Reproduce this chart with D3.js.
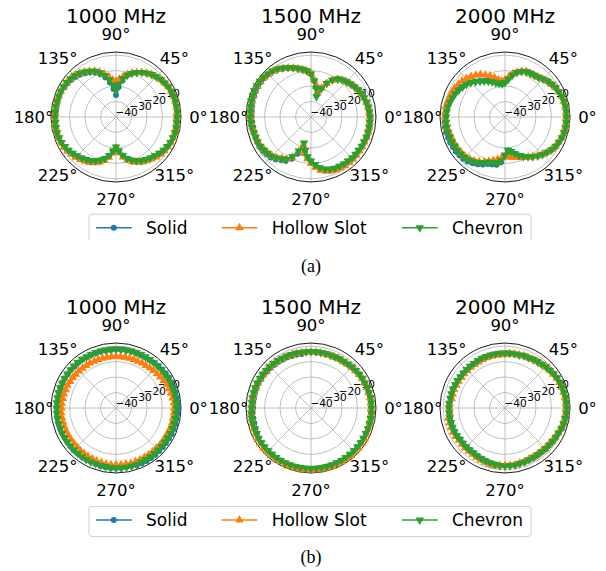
<!DOCTYPE html>
<html>
<head>
<meta charset="utf-8">
<script src="https://cdn.jsdelivr.net/npm/d3@7"></script>
<style>
  body { margin: 0; background: #fff; }
  svg text { font-family: "DejaVu Sans", sans-serif; fill: #000; }
  svg text.caption { font-family: "Liberation Serif", serif; }
</style>
</head>
<body>
<svg id="fig" width="606" height="571"></svg>
<script>
// Radiation patterns (dB) sampled every 5 degrees, 0..355
const angles = d3.range(0, 360, 5);
const rDomain = [-50, -8];
const rTicks = [-40, -30, -20, -10];
const thetaTicks = [0, 45, 90, 135, 180, 225, 270, 315];
const freqLabels = ["1000 MHz", "1500 MHz", "2000 MHz"];
const seriesNames = ["Solid", "Hollow Slot", "Chevron"];
const seriesColors = ["#1f77b4", "#ff7f0e", "#2ca02c"];
const captions = ["(a)", "(b)"];

// ---- (a) ----
const aSolid1000 = [-10.7,-10.4,-10.3,-10.4,-10.4,-10.7,-11.0,-11.6,-12.3,-13.2,-14.2,-15.5,-16.8,-18.4,-20.1,-22.1,
  -26.1,-30.6,-35.8,-31.9,-27.4,-23.5,-20.6,-18.3,-16.7,-15.4,-14.1,-13.2,-12.5,-11.9,-11.6,
  -10.9,-10.9,-10.9,-10.9,-10.9,-10.6,-10.5,-10.4,-10.3,
  -10.3,-10.6,-11.2,-12.1,-13.2,-14.2,-15.2,-16.2,-17.2,-18.6,-20.2,-22.1,-24.6,-27.8,
  -30.3,-27.9,-24.7,-22.1,-20.2,-18.6,-17.3,-16.3,-15.3,-14.4,-13.4,-12.4,-11.8,-11.1,-10.8,-10.5,-10.5,-10.6];
const aHollow1000 = [-10.7,-10.4,-10.4,-10.4,-10.5,-10.7,-11.0,-11.7,-12.3,-13.3,-14.2,-15.5,-16.8,-18.2,-19.8,
  -21.6,-23.8,-25.5,-26.7,-26.1,-23.5,-21.3,-19.0,-17.1,-15.8,-14.5,-13.2,-12.2,-11.6,-11.2,-10.9,
  -10.6,-10.6,-10.5,-10.5,-10.5,-10.5,-10.4,-10.4,-10.4,
  -10.6,-10.6,-10.9,-11.6,-12.5,-13.2,-14.1,-15.1,-16.1,-17.4,-19.0,-20.9,-23.5,-26.7,-30.0,-27.1,-23.8,-21.3,-19.3,-17.7,
  -16.4,-15.4,-14.5,-13.5,-12.5,-11.9,-11.2,-10.9,-10.6,-10.6,-10.5,-10.6];
const aChevron1000 = [-10.6,-10.3,-10.3,-10.3,-10.3,-10.6,-10.9,-11.6,-12.2,-13.2,
  -14.1,-15.4,-16.7,-18.3,-20.0,-21.9,-24.8,-28.7,-33.2,-29.3,
  -25.5,-22.2,-19.6,-17.4,-15.8,-14.5,-13.2,-12.2,-11.6,-11.2,
  -10.9,-10.6,-10.7,-10.6,-10.5,-10.6,-10.6,-10.7,-10.6,-10.6,
  -10.9,-11.2,-11.9,-12.5,-13.5,-14.5,-15.4,-16.4,-17.4,-18.7,
  -20.3,-22.2,-24.8,-28.0,-30.6,-28.0,-24.8,-22.2,-20.3,-18.7,
  -17.4,-16.4,-15.4,-14.5,-13.5,-12.5,-11.9,-11.2,-10.9,-10.6,-10.5,-10.6];

const aSolid1500 = [-11.8,-12.1,-12.4,-12.8,-13.4,-14.0,-14.7,-15.7,-16.6,-17.6,-18.6,-19.9,-22.3,-25.8,-29.8,
  -34.5,-30.0,-26.1,-22.2,
  -20.3,-19.0,-17.7,-16.4,-15.1,-13.8,-12.5,-11.5,-10.9,
  -10.9,-10.6,-10.6,-10.6,-10.9,-10.9,-11.3,-11.6,-11.6,-11.9,-12.1,-12.2,-12.1,-11.8,
  -11.5,-11.9,-12.5,-13.1,-14.4,-16.1,-17.3,-20.3,
  -24.8,-30.0,-27.4,
  -24.0,-21.4,-18.8,-16.5,-14.9,-13.9,-13.3,-13.0,-12.7,-12.7,-12.3,-12.3,-12.3,-12.0,-12.0,-11.7,-11.7,-11.7,-11.7];
const aHollow1500 = [-12.0,-12.3,-12.6,-13.0,-13.6,-14.2,-14.9,-15.8,-16.8,-17.8,-18.8,-20.2,-22.6,-25.9,-30.0,
  -33.9,-30.0,-26.1,-21.9,
  -20.3,-19.0,-17.7,-16.4,-15.1,-13.8,-12.5,-11.6,-11.0,-10.3,-10.0,-10.0,-10.0,-10.3,-10.3,-10.6,-10.9,-10.9,
  -11.2,-11.5,-11.8,-12.1,-12.2,-12.5,-13.1,-13.7,-14.4,-15.6,-17.3,-18.6,
  -21.3,-26.1,-31.3,-26.1,-22.9,-20.0,-17.4,-15.1,-13.8,-12.9,-12.2,-11.9,-11.6,-11.6,-11.6,-11.6,-11.9,
  -11.9,-11.9,-11.9,-11.9,-11.9,-11.9];
const aChevron1500 = [-11.9,-12.2,-12.5,-12.9,-13.5,-14.1,-14.8,-15.8,-16.7,-17.7,
  -18.7,-20.0,-22.5,-26.1,-30.6,-36.4,-31.3,-26.7,-22.2,-20.0,
  -18.7,-17.4,-16.1,-14.8,-13.5,-12.2,-11.2,-10.6,-9.9,-9.6,
  -9.6,-9.6,-9.9,-9.9,-10.3,-10.6,-10.6,-10.9,-11.2,-11.6,
  -11.9,-11.9,-12.2,-12.9,-13.5,-14.1,-15.4,-17.1,-18.3,-21.6,
  -26.7,-32.6,-28.0,-24.2,-21.6,-19.0,-16.7,-15.1,-14.1,-13.5,
  -13.2,-12.9,-12.9,-12.5,-12.5,-12.5,-12.2,-12.2,-11.9,-11.9,-11.9,-11.9];

const aSolid2000 = [-10.1,-10.1,-10.1,-10.4,-10.7,-11.4,-12.0,-13.0,-13.9,-15.2,-16.2,-16.9,-17.2,-17.5,-18.5,-20.1,
  -22.2,-25.2,-27.4,-28.4,-27.7,-26.8,-25.5,-24.2,-22.9,-21.6,-20.0,-18.4,-17.1,-16.1,-15.1,-14.2,-13.5,-12.9,-12.2,-11.9,-11.6,
  -10.9,-10.6,-10.6,-10.9,-10.9,-11.2,-11.2,-11.6,-11.9,-12.5,-13.5,-14.8,-16.1,-17.7,-18.3,-18.7,
  -20.6,-25.0,-28.2,
  -27.4,-25.5,-23.5,-21.9,-20.3,-18.7,-17.1,-15.8,-14.5,-13.2,-12.2,-11.6,-10.9,-10.6,-10.3,-10.3];
const aHollow2000 = [-10.4,-10.4,-10.4,-10.7,-11.0,-11.7,-12.3,-13.3,-14.2,-15.5,-16.5,-17.1,-17.4,-17.6,-18.5,-20.0,
  -21.6,-24.2,-26.1,-26.7,-25.5,-23.5,-21.6,-20.0,-18.3,-17.1,-15.8,-14.8,-13.8,-13.2,-12.5,-12.2,-11.9,-11.6,-11.2,-11.2,
  -11.2,-11.6,-11.9,-12.5,-12.9,-12.9,-13.2,-13.2,-13.5,-13.8,-14.5,-15.4,-16.7,-18.0,-19.6,-20.9,-22.2,-23.5,-24.2,-24.2,
  -23.5,-22.9,-22.2,-21.3,-20.0,
  -18.8,-17.2,-15.9,-14.6,-13.3,-12.3,-11.7,-11.0,-10.7,-10.4,-10.4];
const aChevron2000 = [-10.3,-10.3,-10.3,-10.6,-10.9,-11.6,-12.2,-13.2,-14.1,-15.4,
  -16.4,-17.1,-17.4,-17.7,-18.7,-20.3,-22.5,-25.5,-27.7,-28.7,
  -28.0,-27.1,-25.8,-24.5,-23.2,-21.9,-20.3,-18.7,-17.4,-16.4,
  -15.4,-14.5,-13.8,-13.2,-12.5,-12.2,-11.9,-11.9,-11.9,-11.9,
  -12.2,-12.2,-12.5,-12.5,-12.9,-13.2,-13.8,-14.8,-16.1,-17.4,
  -19.0,-19.6,-20.0,-21.6,-25.5,-28.4,-27.4,-25.5,-23.5,-21.9,
  -20.3,-18.7,-17.1,-15.8,-14.5,-13.2,-12.2,-11.6,-10.9,-10.6,-10.3,-10.3];

// ---- (b) ----
const bSolid1000 = [-9.9,-9.9,-9.9,-10.3,-10.3,-10.6,-10.6,-10.9,-11.2,-11.6,-11.9,
  -12.2,-12.2,-12.3,-12.2,-12.2,-12.1,-12.2,-12.2,-12.3,-12.2,-12.2,-12.2,-12.1,-12.2,
  -11.9,-11.9,-12.0,-11.9,-11.9,-11.8,-11.9,-11.9,-12.0,-11.9,-11.9,-11.9,
  -11.6,-11.6,-11.5,-11.6,-11.6,-11.7,-11.6,-11.6,-11.5,-11.6,-11.6,-11.6,-11.7,-11.6,
  -11.2,-11.2,-11.1,-11.2,-11.2,-11.3,-11.2,
  -10.6,-10.6,-10.5,-10.6,-10.6,-10.7,-10.6,-10.6,-10.5,
  -10.3,-10.3,-10.2,-10.3,-10.1];
const bHollow1000 = [-12.5,-12.5,-12.9,-13.2,-13.5,-13.8,-14.5,-15.1,-15.4,-15.8,-16.1,-16.4,-16.4,
  -16.7,-16.7,-16.8,-16.7,-16.7,-16.6,-16.7,-16.7,-16.8,-16.7,-16.7,
  -16.4,-16.4,-16.4,-16.1,-16.1,-15.8,-15.8,-15.4,-15.4,-15.1,-15.1,-14.8,-14.8,
  -14.5,-14.5,-14.6,-14.5,-14.5,-14.4,-14.5,-14.5,-14.5,
  -14.1,-14.1,-13.8,-13.8,-13.5,-13.5,
  -13.2,-13.2,-13.3,-13.2,-13.2,-13.1,-13.2,-13.2,-13.3,-13.2,-13.2,-13.2,
  -12.9,-12.9,-12.9,-12.9,
  -12.5,-12.5,-12.6,-12.5];
const bChevron1000 = [-10.9,-10.9,-10.8,-10.9,-11.2,-11.1,-11.2,-11.6,-11.5,-11.6,
  -11.9,-11.8,-11.9,-11.9,-12.0,-11.9,-11.9,-11.8,-11.9,-11.9,
  -12.0,-11.9,-11.8,-11.9,-11.9,-11.6,-11.6,-11.5,-11.6,-11.6,
  -11.7,-11.6,-11.6,-11.5,-11.6,-11.6,-11.6,-11.6,-11.7,-11.6,
  -11.6,-11.5,-11.6,-11.6,-11.6,-11.7,-11.6,-11.6,-11.5,-11.6,
  -11.6,-11.6,-11.6,-11.2,-11.2,-11.1,-11.2,-11.2,-11.2,-11.6,
  -11.6,-11.5,-11.6,-11.6,-11.6,-11.6,-11.6,-11.2,-11.2,-11.1,-11.2,-11.2];

const bSolid1500 = [-11.2,-11.2,-11.2,-11.5,-11.5,-11.9,-11.9,-12.2,-12.5,-12.8,-13.2,-13.5,-13.5,
  -13.8,-13.8,-13.9,-13.8,-13.8,-13.8,-13.9,
  -14.5,-14.2,-14.2,-13.9,-13.9,-13.5,-13.5,-13.2,-13.2,-12.9,-12.9,-12.6,-12.6,-12.6,-12.6,-12.6,-12.6,-12.2,-12.2,-12.0,-11.8,
  -11.4,-10.8,-10.8,-10.9,-10.8,-10.8,-10.7,-10.8,-10.8,-10.9,-10.8,-10.8,-10.8,-10.7,-10.8,
  -10.8,-10.9,-10.8,-10.8,-10.8,-10.7,-10.8,-10.8,-10.9,-10.8,-10.8,-10.8,-10.7,-10.8,-10.8,-10.8];
const bHollow1500 = [-11.2,-11.2,-11.2,-11.5,-11.5,-11.9,-11.9,-12.2,-12.5,-12.8,-13.2,-13.5,-13.5,
  -13.8,-13.8,-13.8,-13.9,-13.8,-13.8,-13.8,-13.8,
  -13.5,-13.5,-13.2,-13.2,-12.8,-12.8,-12.5,-12.5,-12.2,-12.2,
  -11.9,-11.9,-11.9,-11.9,-11.9,-11.9,
  -11.2,-11.0,-10.8,
  -10.6,-10.3,
  -9.9,-9.9,-9.8,-9.9,-9.9,-9.9,-10.0,-9.9,-9.9,-9.8,-9.9,-9.9,-9.9,-9.9,-10.0,-9.9,-9.9,-9.8,-9.9,-9.9,-9.9,-9.9,-10.0,-9.9,-9.9,
  -10.3,-10.6,-10.6,-10.9,-10.9];
const bChevron1500 = [-10.9,-10.9,-10.9,-11.2,-11.2,-11.6,-11.6,-11.9,-12.2,-12.5,-12.9,-13.2,-13.2,
  -13.5,-13.5,-13.5,-13.6,-13.5,-13.5,-13.5,-13.5,
  -13.2,-13.2,-12.9,-12.9,-12.5,-12.5,-12.2,-12.2,-11.9,-11.9,
  -11.6,-11.6,-11.6,-11.6,-11.6,-11.6,
  -11.2,-11.2,-11.2,-11.2,-11.2,
  -10.9,-10.9,-10.9,-11.0,-10.9,-10.9,-10.9,-10.8,-10.9,-10.9,-10.9,-11.0,-10.9,-10.9,-10.9,
  -10.8,-10.9,-10.9,-10.9,-11.0,-10.9,-10.9,-10.9,-10.8,-10.9,-10.9,-10.9,-10.9,-10.9,-10.9];

const bSolid2000 = [-10.0,-10.0,-10.0,-10.3,-10.3,-10.6,-10.9,-11.3,-11.9,-12.2,-12.9,-13.2,-13.5,
  -14.3,-14.3,-14.7,
  -14.7,-14.7,-14.7,-14.7,-14.7,-14.7,-14.7,-14.7,
  -15.0,-15.0,-15.0,-15.0,-15.0,-15.0,
  -14.7,-14.7,-14.3,-14.3,-14.3,-14.0,
  -14.0,-14.0,-14.0,-14.0,-14.0,-14.0,
  -14.3,-14.7,-14.7,-14.7,-14.7,-14.7,
  -14.3,-14.0,-13.7,-13.4,-13.1,
  -12.7,-12.7,-12.7,-12.7,-13.1,-13.1,
  -12.9,-12.9,-12.9,-12.9,-12.6,-12.6,-12.2,-11.9,-11.6,-10.9,-10.6,-10.3,-10.0];
const bHollow2000 = [-10.6,-10.6,-10.6,-10.9,-10.9,-11.2,-11.5,-11.9,
  -12.2,-12.5,-13.2,-13.5,-13.8,-14.1,-14.1,-14.5,-14.5,-14.6,
  -15.4,-15.4,-15.4,-15.4,-15.4,-15.4,-15.7,-15.7,-15.7,-15.7,-15.7,-15.7,-15.4,-15.4,-15.0,-15.0,-15.0,
  -14.1,-14.1,-14.1,
  -12.9,-12.9,-12.9,-12.9,-13.2,-13.6,-13.6,-13.6,-13.6,-13.6,-13.2,-12.9,-12.6,-12.3,-12.0,
  -12.8,-12.8,-12.8,-12.8,-13.2,-13.2,-13.5,-13.5,-13.5,-13.5,-13.2,-13.2,-12.8,-12.5,-12.2,-11.5,-11.2,-10.9,-10.6];
const bChevron2000 = [-10.3,-10.3,-10.3,-10.6,-10.6,-10.9,-11.2,-11.6,-12.2,-12.5,-13.2,-13.5,-13.8,-14.1,-14.1,-14.5,
  -14.5,-14.5,-14.5,-14.5,-14.5,-14.5,-14.5,-14.5,
  -14.8,-14.8,-14.8,-14.8,-14.8,-14.8,
  -14.5,-14.5,-14.1,-14.1,-14.1,-13.8,
  -13.8,-13.8,-13.8,-13.8,-13.8,-13.8,
  -14.1,-14.5,-14.5,-14.5,-14.5,-14.5,
  -14.1,-13.8,-13.5,-13.2,-12.9,
  -12.5,-12.5,-12.5,-12.5,-12.9,-12.9,
  -13.2,-13.2,-13.2,-13.2,-12.9,-12.9,-12.5,-12.2,-11.9,-11.2,-10.9,-10.6,-10.3];

const panels = [
  { row: 0, col: 0, series: [aSolid1000, aHollow1000, aChevron1000] },
  { row: 0, col: 1, series: [aSolid1500, aHollow1500, aChevron1500] },
  { row: 0, col: 2, series: [aSolid2000, aHollow2000, aChevron2000] },
  { row: 1, col: 0, series: [bSolid1000, bHollow1000, bChevron1000] },
  { row: 1, col: 1, series: [bSolid1500, bHollow1500, bChevron1500] },
  { row: 1, col: 2, series: [bSolid2000, bHollow2000, bChevron2000] }
];

// ---- layout ----
const R = 65;
const colX = [116, 311, 505];
const rowY = [117, 408];
const legendY = [227.7, 520];
const captionY = [272, 563];

const svg = d3.select("#fig");
const defs = svg.append("defs");
defs.append("clipPath").attr("id", "topClip")
  .append("rect").attr("x", 0).attr("y", 0).attr("width", 606).attr("height", 240.5);

const rScale = d3.scaleLinear().domain(rDomain).range([0, R]);
const rad = deg => deg * Math.PI / 180;
const px = (deg, v) => rScale(v) * Math.cos(rad(deg));
const py = (deg, v) => -rScale(v) * Math.sin(rad(deg));

const symbolFor = [
  d3.symbol().type(d3.symbolCircle).size(28),
  d3.symbol().type(d3.symbolTriangle).size(32),
  d3.symbol().type(d3.symbolTriangle).size(32)
];
const symbolRotate = [0, 0, 180];

panels.forEach(p => {
  const g = svg.append("g")
    .attr("transform", `translate(${colX[p.col]},${rowY[p.row]})`);

  // radial grid circles
  g.selectAll("circle.rgrid").data(rTicks).join("circle")
    .attr("class", "rgrid")
    .attr("r", d => rScale(d))
    .attr("fill", "none").attr("stroke", "#b0b0b0").attr("stroke-width", 0.8);

  // angular grid spokes
  g.selectAll("line.tgrid").data(thetaTicks).join("line")
    .attr("class", "tgrid")
    .attr("x1", 0).attr("y1", 0)
    .attr("x2", d => R * Math.cos(rad(d)))
    .attr("y2", d => -R * Math.sin(rad(d)))
    .attr("stroke", "#b0b0b0").attr("stroke-width", 0.8);

  // outer spine
  g.append("circle").attr("r", R)
    .attr("fill", "none").attr("stroke", "#000").attr("stroke-width", 0.9);

  // angle labels
  g.selectAll("text.tlab").data(thetaTicks).join("text")
    .attr("class", "tlab")
    .attr("x", d => 82.5 * Math.cos(rad(d)))
    .attr("y", d => -82.5 * Math.sin(rad(d)))
    .attr("text-anchor", "middle")
    .attr("dominant-baseline", "central")
    .attr("font-size", "16.5px")
    .text(d => d + "°");

  // radial labels (drawn beneath the data)
  g.selectAll("text.rlab").data(rTicks).join("text")
    .attr("class", "rlab")
    .attr("x", d => (rScale(d) - 4) * Math.cos(rad(24)))
    .attr("y", d => -(rScale(d) - 4) * Math.sin(rad(24)))
    .attr("text-anchor", "middle")
    .attr("dominant-baseline", "central")
    .attr("font-size", "10.5px")
    .text(d => d3.format("d")(d).replace("-", "\u2212"));

  // title
  g.append("text")
    .attr("x", 0).attr("y", -94)
    .attr("text-anchor", "middle")
    .attr("font-size", "20px")
    .text(freqLabels[p.col]);

  // data series
  p.series.forEach((vals, si) => {
    const pts = angles.map((a, i) => [px(a, vals[i]), py(a, vals[i])]);
    g.append("path")
      .attr("d", d3.line().curve(d3.curveLinearClosed)(pts))
      .attr("fill", "none")
      .attr("stroke", seriesColors[si])
      .attr("stroke-width", 1.5);
    g.selectAll(null).data(pts).join("path")
      .attr("d", symbolFor[si])
      .attr("transform", d => `translate(${d[0]},${d[1]}) rotate(${symbolRotate[si]})`)
      .attr("fill", seriesColors[si]);
  });
});

// legends
legendY.forEach((ly, row) => {
  const lg = svg.append("g");
  if (row === 0) lg.attr("clip-path", "url(#topClip)");
  lg.append("rect")
    .attr("x", 89).attr("y", ly - 13.5)
    .attr("width", 442).attr("height", 30)
    .attr("rx", 3)
    .attr("fill", "#fff").attr("fill-opacity", 0.8)
    .attr("stroke", "#cccccc").attr("stroke-width", 0.9);
  const lineX = [96, 221.7, 402];
  seriesNames.forEach((name, si) => {
    const x0 = lineX[si];
    lg.append("line")
      .attr("x1", x0).attr("x2", x0 + 35.7)
      .attr("y1", ly).attr("y2", ly)
      .attr("stroke", seriesColors[si]).attr("stroke-width", 1.5);
    lg.append("path")
      .attr("d", symbolFor[si])
      .attr("transform", `translate(${x0 + 17.8},${ly}) rotate(${symbolRotate[si]})`)
      .attr("fill", seriesColors[si]);
    lg.append("text")
      .attr("x", x0 + 50).attr("y", ly)
      .attr("dominant-baseline", "central")
      .attr("font-size", "17px")
      .text(name);
  });
});

// sub-figure captions
captions.forEach((c, i) => {
  svg.append("text")
    .attr("class", "caption")
    .attr("x", 311).attr("y", captionY[i])
    .attr("text-anchor", "middle")
    .attr("font-size", "18px")
    .text(c);
});
</script>
</body>
</html>
